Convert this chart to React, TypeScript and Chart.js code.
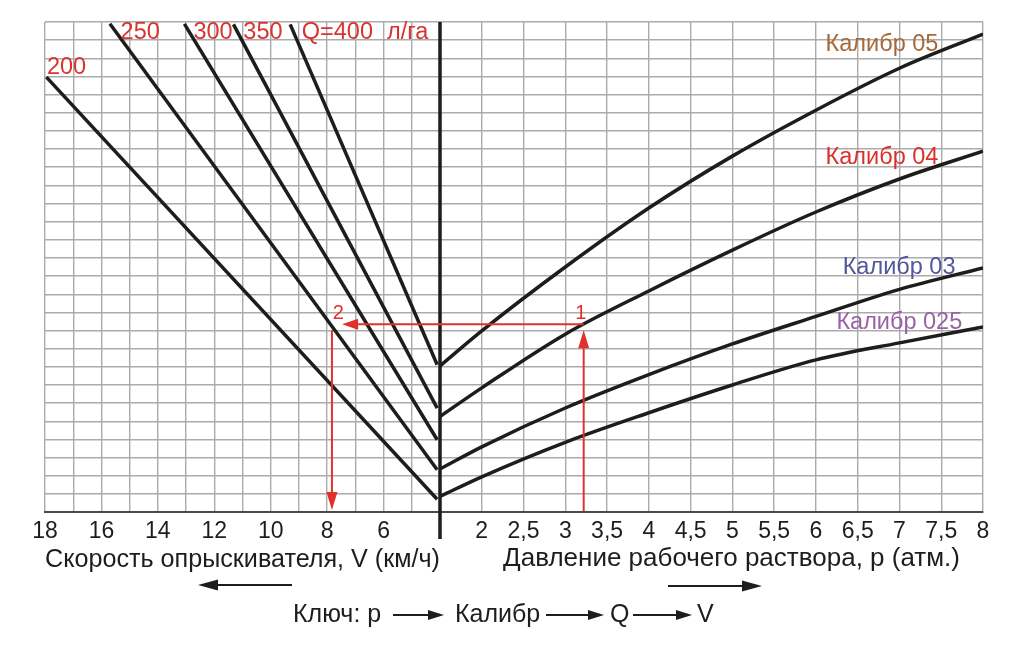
import React, { useEffect, useRef } from 'react';
import { Chart, registerables } from 'chart.js';

Chart.register(...registerables);

const FONT = '"Liberation Sans", Arial, Helvetica, sans-serif';
const INK = '#1d1d1b';
const RED = '#e0312c';
const GRID = '#ababab';

// ---- Axes (left: sprayer speed V, km/h, reversed; right: working pressure p, atm) ----
const speedTickLabels = [18, 16, 14, 12, 10, 8, 6];
const pressureTickLabels = [2, 2.5, 3, 3.5, 4, 4.5, 5, 5.5, 6, 6.5, 7, 7.5, 8];
const speedTitle = 'Скорость опрыскивателя, V (км/ч)';
const pressureTitle = 'Давление рабочего раствора, p (атм.)';

// ---- Nozzle calibre curves: flow (grid rows) vs pressure ----
const pressurePoints = [1.5, 2, 3, 4, 5, 6, 7, 8];
const caliber025 = [0.86, 1.94, 3.84, 5.47, 7.0, 8.38, 9.32, 10.2];
const caliber03 = [2.37, 3.59, 5.73, 7.57, 9.26, 10.78, 12.27, 13.45];
const caliber04 = [5.26, 6.84, 9.8, 12.18, 14.43, 16.53, 18.35, 19.88];
const caliber05 = [8.05, 9.98, 13.5, 16.75, 19.61, 22.14, 24.45, 26.33];
const caliberNames = ['Калибр 025', 'Калибр 03', 'Калибр 04', 'Калибр 05'];
const caliberColors = ['#9862a7', '#52579b', '#d8312e', '#a5693b'];

// ---- Application-rate lines Q (l/ha): flow vs speed ----
const rateValues = [200, 250, 300, 350, 400];
const rateSpeedLow = [4.1, 4.1, 4.1, 4.1, 4.1];
const rateFlowLow = [0.7, 2.33, 3.98, 5.72, 8.11];
const rateSpeedHigh = [17.95, 15.7, 13.06, 11.32, 9.31];
const rateFlowHigh = [23.96, 26.9, 26.9, 26.87, 26.87];

// ---- Worked example: p -> calibre -> Q -> V ----
const examplePressure = 3.22;
const exampleFlow = 10.35;
const exampleSpeed = 7.83;

type Axis = 'V' | 'P';

const rateLabelPos: { text: string; axis: Axis; x: number; y: number }[] = [
  { text: '200', axis: 'V', x: 17.93, y: 24.5 },
  { text: '250', axis: 'V', x: 15.32, y: 26.43 },
  { text: '300', axis: 'V', x: 12.74, y: 26.43 },
  { text: '350', axis: 'V', x: 10.97, y: 26.43 },
  { text: 'Q=400', axis: 'V', x: 8.9, y: 26.43 },
  { text: 'л/га', axis: 'V', x: 5.88, y: 26.43 },
];

const caliberLabelPos: { x: number; y: number }[] = [
  { x: 6.245, y: 10.42 },
  { x: 6.32, y: 13.45 },
  { x: 6.116, y: 19.55 },
  { x: 6.116, y: 25.77 },
];

function drawArrow(
  ctx: CanvasRenderingContext2D,
  x1: number, y1: number, x2: number, y2: number,
  color: string, width: number, headLen: number, headHalf: number
) {
  const ang = Math.atan2(y2 - y1, x2 - x1);
  const bx = x2 - Math.cos(ang) * headLen;
  const by = y2 - Math.sin(ang) * headLen;
  ctx.save();
  ctx.strokeStyle = color;
  ctx.fillStyle = color;
  ctx.lineWidth = width;
  ctx.beginPath();
  ctx.moveTo(x1, y1);
  ctx.lineTo(bx, by);
  ctx.stroke();
  ctx.beginPath();
  ctx.moveTo(x2, y2);
  ctx.lineTo(bx + Math.sin(ang) * headHalf, by - Math.cos(ang) * headHalf);
  ctx.lineTo(bx - Math.sin(ang) * headHalf, by + Math.cos(ang) * headHalf);
  ctx.closePath();
  ctx.fill();
  ctx.restore();
}

const overlayPlugin = {
  id: 'nomogramOverlay',
  afterDatasetsDraw(chart: any) {
    const { ctx, chartArea, scales } = chart;
    const xV = scales.xV;
    const xP = scales.xP;
    const y = scales.y;
    const X = (axis: Axis, v: number) => (axis === 'V' ? xV : xP).getPixelForValue(v);
    const Y = (v: number) => y.getPixelForValue(v);

    ctx.save();
    // thick central divider
    const cx = xV.getPixelForValue(4);
    ctx.strokeStyle = INK;
    ctx.lineWidth = 3.5;
    ctx.beginPath();
    ctx.moveTo(cx, chartArea.top);
    ctx.lineTo(cx, chartArea.bottom + 27);
    ctx.stroke();

    // worked example (red)
    const pX = X('P', examplePressure);
    const sX = X('V', exampleSpeed);
    const fY = Y(exampleFlow);
    drawArrow(ctx, pX, chartArea.bottom - 1, pX, fY + 6, RED, 2, 18, 5.5);
    drawArrow(ctx, pX, fY, X('V', 7.47), fY, RED, 2, 16, 5.5);
    drawArrow(ctx, sX, fY + 6, sX, chartArea.bottom - 2, RED, 2, 18, 5.5);

    ctx.fillStyle = RED;
    ctx.textBaseline = 'middle';
    ctx.textAlign = 'center';
    ctx.font = `20px ${FONT}`;
    ctx.fillText('1', X('P', 3.187), Y(10.95));
    ctx.fillText('2', X('V', 7.6), Y(10.95));

    // rate labels
    ctx.textAlign = 'left';
    ctx.font = `23.5px ${FONT}`;
    ctx.fillStyle = '#d9322f';
    rateLabelPos.forEach((l) => ctx.fillText(l.text, X(l.axis, l.x), Y(l.y)));

    // calibre labels
    caliberLabelPos.forEach((l, i) => {
      ctx.fillStyle = caliberColors[i];
      ctx.fillText(caliberNames[i], X('P', l.x), Y(l.y));
    });

    // pressure axis title (sits right of the axis centre in the original)
    ctx.fillStyle = INK;
    ctx.textAlign = 'center';
    ctx.font = `26px ${FONT}`;
    ctx.fillText(pressureTitle, X('P', 4.99), 559);

    // direction arrows under axis titles
    drawArrow(ctx, 292, 585, 198, 585, INK, 2, 20, 5.5);
    drawArrow(ctx, 668, 586, 762, 586, INK, 2, 20, 5.5);

    // key line
    ctx.textAlign = 'left';
    ctx.font = `25px ${FONT}`;
    ctx.fillText('Ключ: p', 293, 615);
    drawArrow(ctx, 393, 615, 444, 615, INK, 2, 16, 5);
    ctx.fillText('Калибр', 455, 615);
    drawArrow(ctx, 546, 615, 604, 615, INK, 2, 16, 5);
    ctx.fillText('Q', 610, 615);
    drawArrow(ctx, 633, 615, 692, 615, INK, 2, 16, 5);
    ctx.fillText('V', 697, 615);
    ctx.restore();
  },
};

export default function App() {
  const ref = useRef<HTMLCanvasElement | null>(null);

  useEffect(() => {
    document.body.style.margin = '0';
    const canvas = ref.current;
    if (!canvas) return;

    const lineStyle = {
      borderColor: INK,
      borderWidth: 3.5,
      pointRadius: 0,
      fill: false,
      yAxisID: 'y',
    };

    const caliberSeries = [caliber025, caliber03, caliber04, caliber05];
    const datasets: any[] = [
      ...caliberSeries.map((series, i) => ({
        ...lineStyle,
        label: caliberNames[i],
        xAxisID: 'xP',
        cubicInterpolationMode: 'monotone',
        data: pressurePoints.map((p, j) => ({ x: p, y: series[j] })),
      })),
      ...rateValues.map((q, i) => ({
        ...lineStyle,
        label: `Q=${q}`,
        xAxisID: 'xV',
        data: [
          { x: rateSpeedLow[i], y: rateFlowLow[i] },
          { x: rateSpeedHigh[i], y: rateFlowHigh[i] },
        ],
      })),
    ];

    const tickFont = { family: FONT, size: 23 };
    const titleFont = { family: FONT, size: 26 };
    const gridOpts = { color: GRID, lineWidth: 1.4, drawTicks: false };
    const borderOpts = { display: true, color: '#4a4a4a', width: 2 };

    const chart = new Chart(canvas, {
      type: 'line',
      data: { datasets },
      options: {
        animation: false,
        responsive: false,
        events: [],
        layout: { padding: { left: 45, right: 41, top: 22, bottom: 0 } },
        plugins: { legend: { display: false }, tooltip: { enabled: false } },
        scales: {
          xV: {
            type: 'linear',
            position: 'bottom',
            stack: 'bottomAxes',
            stackWeight: 395,
            min: 4,
            max: 18,
            reverse: true,
            afterFit: (s: any) => { s.height = 143; },
            ticks: {
              stepSize: 1,
              autoSkip: false,
              maxRotation: 0,
              minRotation: 0,
              padding: 6,
              color: INK,
              font: tickFont,
              callback: (v: any) => (speedTickLabels.includes(Number(v)) ? String(v) : ''),
            },
            grid: gridOpts,
            border: borderOpts,
            title: {
              display: true,
              text: speedTitle,
              color: INK,
              font: titleFont,
              padding: { top: 0, bottom: 79.5 },
            },
          },
          xP: {
            type: 'linear',
            position: 'bottom',
            stack: 'bottomAxes',
            stackWeight: 543,
            min: 1.5,
            max: 8,
            afterFit: (s: any) => { s.height = 143; },
            ticks: {
              stepSize: 0.5,
              autoSkip: false,
              maxRotation: 0,
              minRotation: 0,
              padding: 6,
              color: INK,
              font: tickFont,
              callback: (v: any) =>
                pressureTickLabels.includes(Number(v)) ? String(v).replace('.', ',') : '',
            },
            grid: gridOpts,
            border: borderOpts,
            title: { display: false, text: pressureTitle },
          },
          y: {
            type: 'linear',
            position: 'left',
            min: 0,
            max: 27,
            afterFit: (s: any) => { s.width = 0; },
            ticks: { display: false, stepSize: 1 },
            grid: gridOpts,
            border: { display: false },
          },
        },
      } as any,
      plugins: [overlayPlugin],
    });

    return () => chart.destroy();
  }, []);

  return (
    <div style={{ width: 1024, height: 655 }}>
      <canvas ref={ref} width={1024} height={655} style={{ display: 'block' }} />
    </div>
  );
}
